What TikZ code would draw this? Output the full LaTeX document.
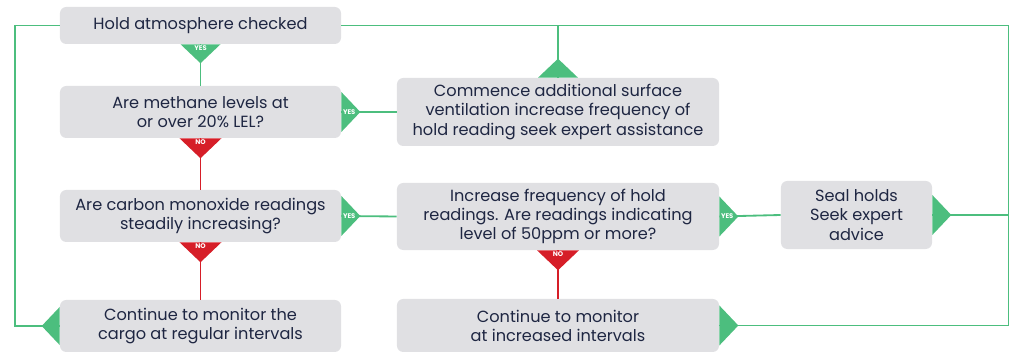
\documentclass[tikz,border=0pt]{standalone}
\usepackage{fontspec}
\setmainfont{Poppins}
\usetikzlibrary{calc}
\definecolor{boxgray}{RGB}{224,224,227}
\definecolor{inkblue}{RGB}{30,38,66}
\definecolor{yesgreen}{RGB}{76,190,126}
\definecolor{nored}{RGB}{214,30,40}

\begin{document}
\begin{tikzpicture}[x=0.025cm,y=0.025cm,
  flowbox/.style={fill=boxgray, rounded corners=4.5pt, align=center, text=inkblue,
    font=\fontsize{11.5}{13.6}\selectfont, inner sep=0pt},
  yesline/.style={draw=yesgreen, line width=1.3pt},
  noline/.style={draw=nored, line width=1.4pt},
  tag/.style={text=white, font=\fontsize{4.8}{5}\selectfont\bfseries, inner sep=1pt}]

\useasboundingbox (0,0) rectangle (1018,352);

% boxes
\node[flowbox, minimum width=7.025cm, minimum height=0.925cm] (hold) at (200.5,326.5) {Hold atmosphere checked};
\node[flowbox, minimum width=7.025cm, minimum height=1.3cm] (methane) at (200.5,240) {Are methane levels at\\or over 20\% LEL?};
\node[flowbox, minimum width=8.05cm, minimum height=1.7cm] (vent) at (558,240) {Commence additional surface\\ventilation increase frequency of\\hold reading seek expert assistance};
\node[flowbox, minimum width=7.025cm, minimum height=1.3cm] (carbon) at (200.5,136) {Are carbon monoxide readings\\steadily increasing?};
\node[flowbox, minimum width=8.05cm, minimum height=1.675cm] (freq) at (558,135.5) {Increase frequency of hold\\readings. Are readings indicating\\level of 50ppm or more?};
\node[flowbox, minimum width=3.775cm, minimum height=1.7cm] (seal) at (856.5,137) {Seal holds\\Seek expert\\advice};
\node[flowbox, minimum width=7.025cm, minimum height=1.3cm] (regular) at (200.5,26) {Continue to monitor the\\cargo at regular intervals};
\node[flowbox, minimum width=8.05cm, minimum height=1.325cm] (increased) at (558,26.5) {Continue to monitor\\at increased intervals};

\coordinate (lft) at (15,0);
\coordinate (rgt) at (1008.5,0);

% loop lines
\draw[yesline] (hold.west) -| (lft |- regular.west) -- (regular.west);
\draw[yesline] (hold.east) -| (rgt |- increased.east) -- (increased.east);
\draw[yesline] (seal.east) -- (rgt |- seal.east);
\draw[yesline] (vent.north) -- (vent.north |- hold.east);

% flow lines
\draw[yesline] (hold.south) -- (methane.north);
\draw[yesline] (methane.east) -- (vent.west);
\draw[yesline] (carbon.east) -- (freq.west);
\draw[yesline] (freq.east) -- (seal.west);
\draw[noline] (methane.south) -- (carbon.north);
\draw[noline] (carbon.south) -- (regular.north);
\draw[noline] (freq.south) -- (increased.north);

% triangles
\fill[yesgreen] (hold.south) ++(-20,0) -- ++(40,0) -- ++(-20,-19) -- cycle;
\node[tag, anchor=north] (y1) at (hold.south) {YES};
\fill[yesgreen] (methane.east) ++(0,20) -- ++(0,-40) -- ++(19,20) -- cycle;
\node[tag, anchor=west] (y2) at (methane.east) {YES};
\fill[yesgreen] (carbon.east) ++(0,20) -- ++(0,-40) -- ++(19,20) -- cycle;
\node[tag, anchor=west] (y3) at (carbon.east) {YES};
\fill[yesgreen] (freq.east) ++(0,20) -- ++(0,-40) -- ++(19,20) -- cycle;
\node[tag, anchor=west] (y4) at (freq.east) {YES};
\fill[nored] (methane.south) ++(-21,0) -- ++(42,0) -- ++(-21,-20) -- cycle;
\node[tag, anchor=north] (n1) at (methane.south) {NO};
\fill[nored] (carbon.south) ++(-21,0) -- ++(42,0) -- ++(-21,-20) -- cycle;
\node[tag, anchor=north] (n2) at (carbon.south) {NO};
\fill[nored] (freq.south) ++(-21,0) -- ++(42,0) -- ++(-21,-20) -- cycle;
\node[tag, anchor=north] (n3) at (freq.south) {NO};
\fill[yesgreen] (vent.north) ++(-20,0) -- ++(40,0) -- ++(-20,19) -- cycle;
\fill[yesgreen] (seal.east) ++(0,20) -- ++(0,-40) -- ++(19,20) -- cycle;
\fill[yesgreen] (increased.east) ++(0,20) -- ++(0,-40) -- ++(19,20) -- cycle;
\fill[yesgreen] (regular.west) ++(0,19) -- ++(0,-38) -- ++(-18,19) -- cycle;

\end{tikzpicture}
\end{document}
